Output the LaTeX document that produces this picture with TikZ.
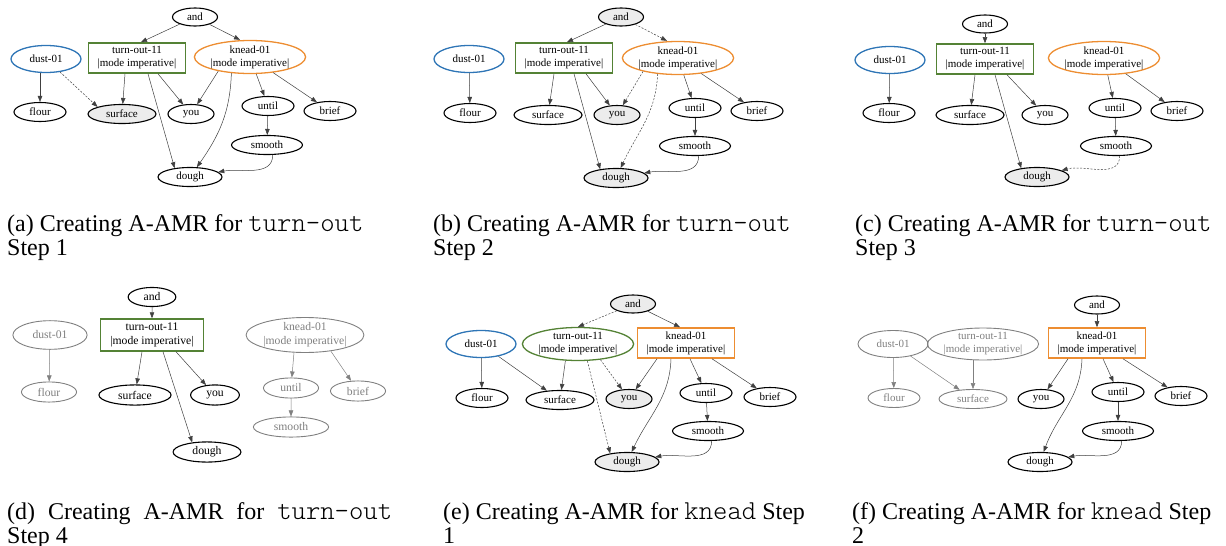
\documentclass[tikz,border=0pt]{standalone}
\usepackage{fontspec}
\setmainfont{Liberation Serif}
\setmonofont[Scale=1.14]{Latin Modern Mono Light}
\usepackage{tikz}
\usetikzlibrary{shapes,arrows.meta,positioning}

\definecolor{dustblue}{RGB}{46,117,182}
\definecolor{turngreen}{RGB}{84,130,53}
\definecolor{kneadorange}{RGB}{237,141,49}

\begin{document}
\begin{tikzpicture}[
    x=1pt, y=-1pt,
    >={Triangle[length=6pt,width=4.5pt]},
    amr/.style={ellipse, draw, line width=1.1pt, inner sep=0pt, minimum height=19pt, font=\fontsize{11}{13}\selectfont, align=center},
    andnode/.style={amr, minimum width=45pt, minimum height=18pt},
    pred/.style={amr, line width=1.3pt, minimum width=70pt, minimum height=27pt},
    focus/.style={amr, rectangle, line width=1.6pt, minimum width=97pt, minimum height=30pt},
    seen/.style={fill=gray!15},
    faded/.style={draw=gray, text=gray, line width=0.9pt},
    link/.style={->, line width=0.5pt, draw=black!75},
    guess/.style={link, dash pattern=on 2pt off 1.5pt},
    fadedlink/.style={link, draw=gray},
    caption/.style={anchor=base west, inner sep=0pt, font=\fontsize{24}{24}\selectfont}
]
    \useasboundingbox (0,0) rectangle (1226,546);

    % (a) turn-out, step 1
    \node[andnode] (a-and) at (195,17) {and};
    \node[focus, draw=turngreen] (a-tu) at (137,58) {turn-out-11\\|mode imperative|};
    \node[pred, draw=dustblue] (a-du) at (46,59) {dust-01};
    \node[pred, draw=kneadorange, minimum width=111pt, minimum height=33pt] (a-kn) at (250,57) {knead-01\\|mode imperative|};
    \node[amr, minimum width=52pt] (a-fl) at (40,112) {flour};
    \node[amr, seen, minimum width=68pt] (a-su) at (122,114) {surface};
    \node[amr, minimum width=46pt] (a-yo) at (191,114) {you};
    \node[amr, minimum width=52pt] (a-un) at (268,106) {until};
    \node[amr, minimum width=52pt] (a-br) at (330,111) {brief};
    \node[amr, minimum width=71pt] (a-sm) at (267,145) {smooth};
    \node[amr, minimum width=64pt] (a-do) at (190,177) {dough};

    \draw[link] (a-and) -- ([xshift=4pt]a-tu.north);
    \draw[link] (a-and) -- ([xshift=-10pt]a-kn.north);
    \draw[link] (a-du.south -| a-fl) -- (a-fl);
    \draw[guess] (a-du) -- (a-su.north west);
    \draw[link] ([xshift=-12pt]a-tu.south) -- (a-su);
    \draw[link] ([xshift=21pt]a-tu.south) -- (a-yo);
    \draw[link] ([xshift=11pt]a-tu.south) -- (a-do.150);
    \draw[link] (a-kn.204) -- (a-yo);
    \draw[link] (a-kn.221) to[out=-92, in=55] (a-do);
    \draw[link] (a-kn) -- (a-un);
    \draw[link] (a-kn) -- (a-br);
    \draw[link] (a-un) -- (a-sm);
    \draw[link] (a-sm.300) to[out=-90, in=10] (a-do);

    % (b) turn-out, step 2
    \node[andnode, seen] (b-and) at (621,17) {and};
    \node[focus, draw=turngreen] (b-tu) at (564,58) {turn-out-11\\|mode imperative|};
    \node[pred, draw=dustblue] (b-du) at (469,59) {dust-01};
    \node[pred, draw=kneadorange, minimum width=111pt, minimum height=33pt] (b-kn) at (678,58) {knead-01\\|mode imperative|};
    \node[amr, minimum width=52pt] (b-fl) at (470,113) {flour};
    \node[amr, minimum width=68pt] (b-su) at (548,115) {surface};
    \node[amr, seen, minimum width=46pt] (b-yo) at (617,115) {you};
    \node[amr, minimum width=52pt] (b-un) at (695,108) {until};
    \node[amr, minimum width=52pt] (b-br) at (757,111) {brief};
    \node[amr, minimum width=71pt] (b-sm) at (695,146) {smooth};
    \node[amr, seen, minimum width=64pt] (b-do) at (616,178) {dough};

    \draw[link] (b-and) -- ([xshift=3pt]b-tu.north);
    \draw[guess] (b-and) -- ([xshift=-11pt]b-kn.north);
    \draw[link] (b-du) -- (b-fl);
    \draw[link] ([xshift=-10pt]b-tu.south) -- (b-su);
    \draw[link] ([xshift=22pt]b-tu.south) -- (b-yo);
    \draw[link] ([xshift=10pt]b-tu.south) -- (b-do.151);
    \draw[guess] (b-kn.201) -- (b-yo);
    \draw[guess] (b-kn.218) to[out=-92, in=65] (b-do);
    \draw[link] (b-kn) -- (b-un);
    \draw[link] (b-kn) -- (b-br);
    \draw[link] (b-un) -- (b-sm);
    \draw[link] (b-sm.290) to[out=-90, in=10] (b-do);

    % (c) turn-out, step 3
    \node[andnode] (c-and) at (985,24) {and};
    \node[focus, draw=turngreen] (c-tu) at (985,59) {turn-out-11\\|mode imperative|};
    \node[pred, draw=dustblue] (c-du) at (890,60) {dust-01};
    \node[pred, draw=kneadorange, minimum width=111pt, minimum height=33pt] (c-kn) at (1104,58) {knead-01\\|mode imperative|};
    \node[amr, minimum width=52pt] (c-fl) at (889,113) {flour};
    \node[amr, minimum width=68pt] (c-su) at (970,115) {surface};
    \node[amr, minimum width=46pt] (c-yo) at (1045,115) {you};
    \node[amr, minimum width=52pt] (c-un) at (1115,108) {until};
    \node[amr, minimum width=52pt] (c-br) at (1177,111) {brief};
    \node[amr, minimum width=71pt] (c-sm) at (1116,146) {smooth};
    \node[amr, seen, minimum width=64pt] (c-do) at (1037,177) {dough};

    \draw[link] (c-and) -- (c-tu);
    \draw[link] (c-du) -- (c-fl);
    \draw[link] ([xshift=-10pt]c-tu.south) -- (c-su);
    \draw[link] ([xshift=22pt]c-tu.south) -- (c-yo);
    \draw[link] ([xshift=10pt]c-tu.south) -- (c-do.151);
    \draw[link] (c-kn) -- (c-un);
    \draw[link] (c-kn) -- (c-br);
    \draw[link] (c-un) -- (c-sm);
    \draw[guess] (c-sm.290) to[out=-90, in=15] (c-do);

    % (d) turn-out, step 4
    \begin{scope}[every node/.append style={scale=1.06}]
    \node[andnode] (d-and) at (152,297) {and};
    \node[focus, draw=turngreen] (d-tu) at (152,335) {turn-out-11\\|mode imperative|};
    \node[pred, faded] (d-du) at (50,335) {dust-01};
    \node[pred, faded, minimum width=111pt, minimum height=33pt] (d-kn) at (305,335) {knead-01\\|mode imperative|};
    \node[amr, faded, minimum width=52pt] (d-fl) at (49,392) {flour};
    \node[amr, minimum width=68pt] (d-su) at (135,395) {surface};
    \node[amr, minimum width=46pt] (d-yo) at (215,395) {you};
    \node[amr, faded, minimum width=52pt] (d-un) at (291,388) {until};
    \node[amr, faded, minimum width=52pt] (d-br) at (358,391) {brief};
    \node[amr, faded, minimum width=71pt] (d-sm) at (291,427) {smooth};
    \node[amr, minimum width=64pt] (d-do) at (207,452) {dough};
    \end{scope}

    \draw[link] (d-and) -- (d-tu);
    \draw[link] ([xshift=-10pt]d-tu.south) -- (d-su);
    \draw[link] ([xshift=24pt]d-tu.south) -- (d-yo);
    \draw[link] ([xshift=11pt]d-tu.south) -- (d-do.147);
    \draw[fadedlink] (d-du) -- (d-fl);
    \draw[fadedlink] (d-kn.238) -- (d-un);
    \draw[fadedlink] (d-kn.328) -- (d-br);
    \draw[fadedlink] (d-un) -- (d-sm);

    % (e) knead, step 1
    \node[andnode, seen] (e-and) at (633,304) {and};
    \node[pred, draw=turngreen, minimum width=101pt, minimum height=33pt] (e-tu) at (578,344) {turn-out-11\\|mode imperative|};
    \node[focus, draw=kneadorange] (e-kn) at (686,343) {knead-01\\|mode imperative|};
    \node[pred, draw=dustblue] (e-du) at (481,344) {dust-01};
    \node[amr, minimum width=52pt] (e-fl) at (482,398) {flour};
    \node[amr, minimum width=68pt] (e-su) at (560,400) {surface};
    \node[amr, seen, minimum width=46pt] (e-yo) at (629,399) {you};
    \node[amr, minimum width=52pt] (e-un) at (706,393) {until};
    \node[amr, minimum width=52pt] (e-br) at (770,397) {brief};
    \node[amr, minimum width=71pt] (e-sm) at (708,431) {smooth};
    \node[amr, seen, minimum width=64pt] (e-do) at (627,462) {dough};

    \draw[guess] (e-and) -- (e-tu.north);
    \draw[link] (e-and) -- ([xshift=-6pt]e-kn.north);
    \draw[link] (e-du) -- (e-fl);
    \draw[link] (e-du) -- (e-su);
    \draw[link] (e-tu.233) -- (e-su);
    \draw[guess] (e-tu.325) -- (e-yo);
    \draw[guess] (e-tu.299) -- (e-do.153);
    \draw[link] ([xshift=-29pt]e-kn.south) -- (e-yo);
    \draw[link] ([xshift=-15pt]e-kn.south) to[out=-92, in=65] (e-do);
    \draw[link] ([xshift=4pt]e-kn.south) -- (e-un);
    \draw[link] ([xshift=26pt]e-kn.south) -- (e-br);
    \draw[link] (e-un) -- (e-sm);
    \draw[link] (e-sm.290) to[out=-90, in=10] (e-do);

    % (f) knead, step 2
    \node[andnode] (f-and) at (1097,305) {and};
    \node[focus, draw=kneadorange] (f-kn) at (1097,343) {knead-01\\|mode imperative|};
    \node[pred, faded] (f-du) at (893,344) {dust-01};
    \node[pred, faded, minimum width=101pt, minimum height=31pt] (f-tu) at (983,344) {turn-out-11\\|mode imperative|};
    \node[amr, faded, minimum width=52pt] (f-fl) at (894,398) {flour};
    \node[amr, faded, minimum width=68pt] (f-su) at (973,399) {surface};
    \node[amr, minimum width=46pt] (f-yo) at (1041,399) {you};
    \node[amr, minimum width=52pt] (f-un) at (1118,392) {until};
    \node[amr, minimum width=52pt] (f-br) at (1181,396) {brief};
    \node[amr, minimum width=71pt] (f-sm) at (1118,431) {smooth};
    \node[amr, minimum width=64pt] (f-do) at (1040,462) {dough};

    \draw[link] (f-and) -- (f-kn);
    \draw[link] ([xshift=-29pt]f-kn.south) -- (f-yo);
    \draw[link] ([xshift=-15pt]f-kn.south) to[out=-92, in=70] (f-do);
    \draw[link] ([xshift=6pt]f-kn.south) -- (f-un);
    \draw[link] ([xshift=26pt]f-kn.south) -- (f-br);
    \draw[link] (f-un) -- (f-sm);
    \draw[link] (f-sm.290) to[out=-90, in=10] (f-do);
    \draw[fadedlink] (f-du) -- (f-fl);
    \draw[fadedlink] (f-du) -- (f-su);
    \draw[fadedlink] (f-tu.south -| f-su) -- (f-su);

    % captions
    \node[caption] (cap-a1) at (7,231.5) {(a) Creating A-AMR for \texttt{turn-out}};
    \node[caption] (cap-a2) at (7,255) {Step 1};
    \node[caption] (cap-b1) at (433,231.5) {(b) Creating A-AMR for \texttt{turn-out}};
    \node[caption] (cap-b2) at (433,255) {Step 2};
    \node[caption] (cap-c1) at (855,231.5) {(c) Creating A-AMR for \texttt{turn-out}};
    \node[caption] (cap-c2) at (855,255) {Step 3};
    \node[caption] (cap-d1) at (7,519.5) {\makebox[385pt][s]{(d) Creating A-AMR for \texttt{turn-out}}};
    \node[caption] (cap-d2) at (7,543) {Step 4};
    \node[caption] (cap-e1) at (443,519.5) {(e) Creating A-AMR for \texttt{knead} Step};
    \node[caption] (cap-e2) at (443,543) {1};
    \node[caption] (cap-f1) at (852,519.5) {(f) Creating A-AMR for \texttt{knead} Step};
    \node[caption] (cap-f2) at (852,543) {2};
\end{tikzpicture}
\end{document}
